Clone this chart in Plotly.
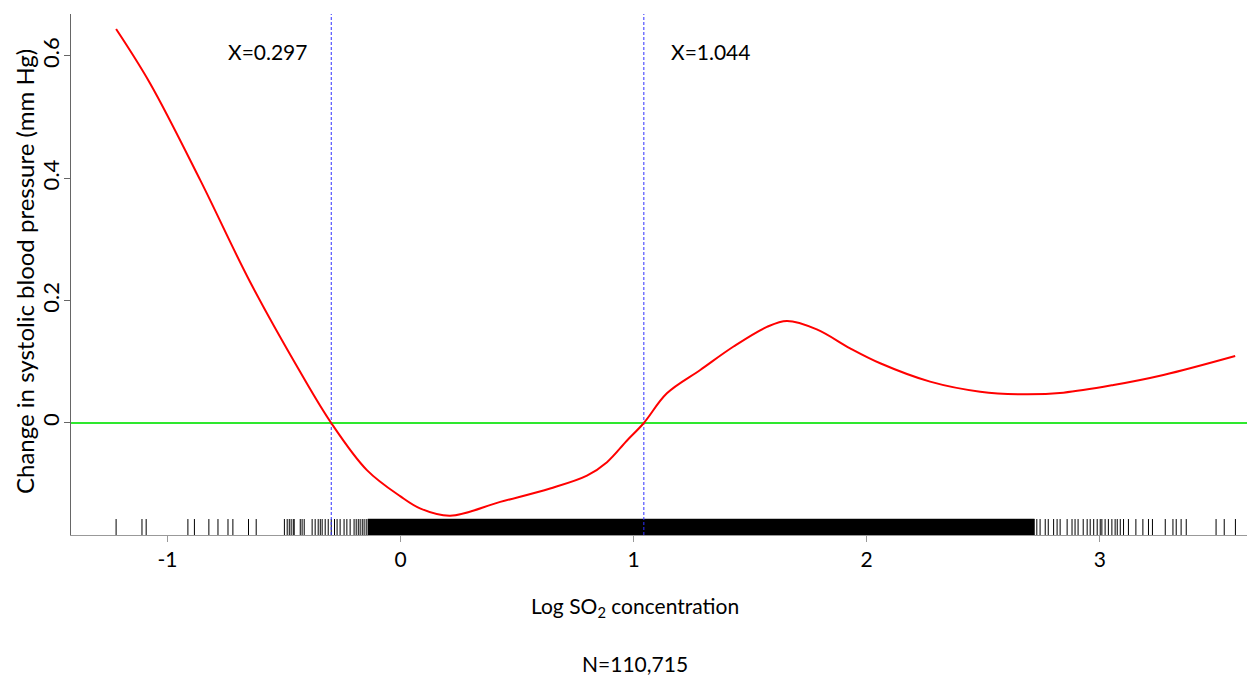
import plotly.graph_objects as go

# ---- data ----
curve_x = [-1.220, -1.074, -0.859, -0.645, -0.430, -0.297, -0.144, 0.000, 0.086,
           0.213, 0.428, 0.642, 0.800, 0.886, 0.971, 1.044, 1.143, 1.286, 1.429,
           1.572, 1.658, 1.786, 1.929, 2.058, 2.272, 2.487, 2.673, 2.844,
           3.059, 3.273, 3.581]
curve_y = [0.644, 0.555, 0.397, 0.2305, 0.0834, 0.000, -0.077, -0.120, -0.140,
           -0.1515, -0.129, -0.107, -0.086, -0.064, -0.029, 0.000, 0.0485, 0.0866, 0.125,
           0.157, 0.1667, 0.153, 0.122, 0.0976, 0.0676, 0.0512, 0.0469, 0.0496,
           0.0621, 0.0785, 0.1095]

thresholds = [-0.297, 1.044]
threshold_labels = ["X=0.297", "X=1.044"]

rug_sparse = [-1.220, -1.109, -1.091, -0.912, -0.884, -0.822, -0.783, -0.740, -0.719, -0.652,
              -0.619, -0.498, -0.486, -0.477, -0.469, -0.460, -0.456, -0.430, -0.422, -0.413,
              -0.379, -0.366, -0.353, -0.344, -0.336, -0.323, -0.310, -0.297, -0.283, -0.272,
              -0.259, -0.242, -0.230, -0.216, -0.199, -0.190, -0.181, -0.173, -0.164, -0.156,
              -0.147,
              2.730, 2.744, 2.766, 2.779, 2.802, 2.817, 2.830, 2.860, 2.881, 2.894,
              2.907, 2.929, 2.946, 2.959, 2.974, 2.989, 3.002, 3.009, 3.023, 3.037,
              3.052, 3.066, 3.075, 3.088, 3.102, 3.123, 3.155, 3.185, 3.209, 3.226,
              3.281, 3.314, 3.328, 3.349, 3.371, 3.499, 3.534, 3.582]
rug_dense_band = [-0.140, 2.720]

x_ticks = [-1, 0, 1, 2, 3]
y_ticks = [0, 0.2, 0.4, 0.6]
y_tick_text = ["0", "0.2", "0.4", "0.6"]
n_label = "N=110,715"

X_RANGE = [-1.4135, 3.666]
Y_RANGE = [-0.1831, 0.6686]
RUG_TOP = -0.157

FONT = "Lato, Carlito, Calibri, sans-serif"

fig = go.Figure()

# rug: sparse ticks
rx, ry = [], []
for v in rug_sparse:
    rx += [v, v, None]
    ry += [Y_RANGE[0], RUG_TOP, None]
fig.add_trace(go.Scatter(x=rx, y=ry, mode="lines",
                         line=dict(color="black", width=1),
                         hoverinfo="skip", showlegend=False))
# rug: dense band (appears solid)
b0, b1 = rug_dense_band
fig.add_trace(go.Scatter(x=[b0, b1, b1, b0, b0],
                         y=[Y_RANGE[0], Y_RANGE[0], RUG_TOP, RUG_TOP, Y_RANGE[0]],
                         mode="lines", fill="toself", fillcolor="black",
                         line=dict(color="black", width=0.5),
                         hoverinfo="skip", showlegend=False))

# zero reference line
fig.add_trace(go.Scatter(x=X_RANGE, y=[0, 0], mode="lines",
                         line=dict(color="#2ee82e", width=2),
                         hoverinfo="skip", showlegend=False))

# threshold vertical lines
for t in thresholds:
    fig.add_trace(go.Scatter(x=[t, t], y=Y_RANGE, mode="lines",
                             line=dict(color="#3030ff", width=1, dash="3px,2px"),
                             hoverinfo="skip", showlegend=False))

# fitted curve
fig.add_trace(go.Scatter(x=curve_x, y=curve_y, mode="lines",
                         line=dict(color="#ff0000", width=2, shape="spline", smoothing=1.0),
                         showlegend=False))

# threshold labels
label_pos_x = [-0.568, 1.332]
for lx, txt in zip(label_pos_x, threshold_labels):
    fig.add_annotation(x=lx, y=0.6065, xref="x", yref="y", text=txt, showarrow=False,
                       xanchor="center", yanchor="middle",
                       font=dict(family=FONT, size=21, color="black"))

fig.add_annotation(x=0.4764, y=-0.138, xref="paper", yref="paper",
                   text="Log SO<sub>2</sub> concentration", showarrow=False,
                   xanchor="center", yanchor="middle",
                   font=dict(family=FONT, size=21, color="black"))
fig.add_annotation(x=0.4764, y=-0.2457, xref="paper", yref="paper",
                   text=n_label, showarrow=False,
                   xanchor="center", yanchor="middle",
                   font=dict(family=FONT, size=21, color="black"))
fig.add_annotation(x=-0.0397, y=0.5067, xref="paper", yref="paper",
                   text="Change in systolic blood pressure (mm Hg)", showarrow=False,
                   textangle=-90, xanchor="center", yanchor="middle",
                   font=dict(family=FONT, size=24, color="black"))

# page body has an 8px margin, so the figure is sized/offset to compensate
fig.update_layout(
    width=1247, height=670, autosize=False,
    margin=dict(l=63, r=0, t=6, b=143, pad=0),
    plot_bgcolor="white", paper_bgcolor="white",
    font=dict(family=FONT, size=21, color="black"),
    showlegend=False,
)
fig.update_xaxes(range=X_RANGE, tickvals=x_ticks, ticktext=[str(v) for v in x_ticks],
                 automargin=False,
                 showgrid=False, zeroline=False, showline=True, linecolor="#999999",
                 linewidth=1, ticks="outside", ticklen=6, tickcolor="#999999",
                 ticklabelstandoff=0, tickfont=dict(family=FONT, size=21, color="black"))
fig.update_yaxes(range=Y_RANGE, tickvals=y_ticks, ticktext=y_tick_text,
                 automargin=False,
                 showgrid=False, zeroline=False, showline=True, linecolor="#666666",
                 linewidth=1, ticks="outside", ticklen=6, tickcolor="#666666",
                 ticklabelstandoff=-4,
                 tickangle=-90, tickfont=dict(family=FONT, size=22, color="black"))

fig.write_html("out.html")
